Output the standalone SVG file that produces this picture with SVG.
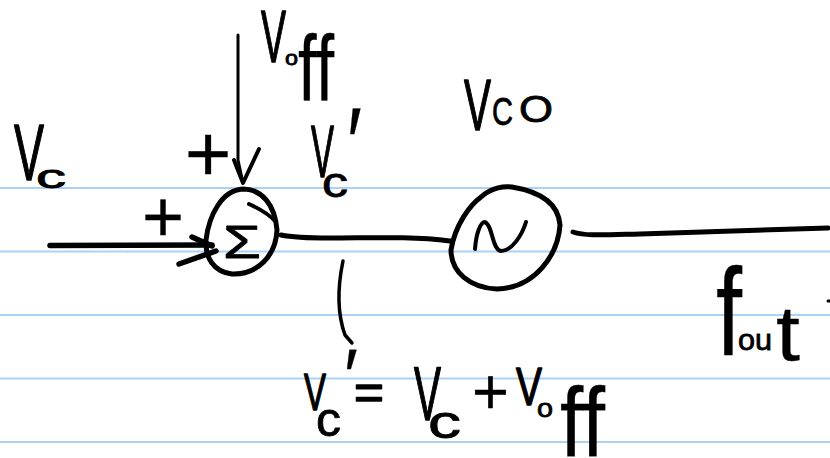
<svg xmlns="http://www.w3.org/2000/svg" width="830" height="458" viewBox="0 0 830 458">
<style>
.rule{stroke:#aad2f8;stroke-width:2;fill:none}
.ink{stroke:#000;fill:none;stroke-linecap:round;stroke-linejoin:round}
.t{font-family:"Liberation Sans",Arial,sans-serif;fill:#000;stroke:#000;stroke-width:1.500;stroke-linejoin:round}
.s{stroke-width:.8}
.n{stroke-width:.3}
</style>
<rect width="830" height="458" fill="#fff"/>
<g id="ruled-lines">
<path class="rule" d="M0 188H830M0 251.500H830M0 315H830M0 378.500H830M0 442H830"/>
</g>
<g id="connectors">
<path class="ink" stroke-width="5.500" d="M50 245.500L212 245"/>
<path class="ink" stroke-width="5.500" d="M192 237L212 246M179 264L216 251"/>
<path class="ink" stroke-width="3" d="M238 35L238 75L238 160L243 183"/>
<path class="ink" stroke-width="4" d="M234 160L243 183L259 149"/>
<path class="ink" stroke-width="5" d="M281 235C295 238 310 238 330 238C370 238 410 236 450 241"/>
<path class="ink" stroke-width="5" d="M573 232C585 236 600 235 640 234L828 228"/>
<path class="ink" stroke-width="3.500" d="M343 261C338 285 336 310 345 335L352 343"/>
<path class="ink" stroke-width="3" d="M828 301L830 301"/>
</g>
<g id="sum">
<path class="ink" stroke-width="5" d="M243 189C262 189 275 205 277 230C276 255 258 275 232 274C214 272 205 258 206 240C209 215 222 190 243 189Z"/>
<path class="ink" stroke-width="4" d="M249 204C260 209 270 215 276 222"/>
<text class="t s" x="223" y="258" font-size="46" textLength="38" lengthAdjust="spacingAndGlyphs">Σ</text>
<text class="t n" x="163" y="241" text-anchor="middle" font-size="72">+</text>
<text class="t n" x="208" y="181" text-anchor="middle" font-size="80">+</text>
</g>
<g id="vco">
<path class="ink" stroke-width="5" d="M481 197C492 187 505 186 512 187C530 190 558 198 560 225C558 255 535 288 497 289C470 288 451 272 451 250C455 225 470 205 481 197Z"/>
<path class="ink" stroke-width="4" d="M475 249C476 235 480 222 485 222C493 226 492 250 501 251C512 251 522 235 526 222"/>
</g>
<g id="labels">
<text class="t"><tspan x="14" y="180" font-size="80" textLength="30" lengthAdjust="spacingAndGlyphs">V</tspan><tspan class="s" x="36" y="188" font-size="34" textLength="30" lengthAdjust="spacingAndGlyphs">c</tspan></text>
<text class="t"><tspan x="261" y="62" font-size="74" textLength="25" lengthAdjust="spacingAndGlyphs">V</tspan><tspan class="s" x="285" y="65" font-size="20" textLength="13" lengthAdjust="spacingAndGlyphs">o</tspan><tspan class="n" x="298" y="100" font-size="92" textLength="36" lengthAdjust="spacingAndGlyphs">ff</tspan></text>
<text class="t"><tspan x="311" y="177" font-size="74" textLength="23" lengthAdjust="spacingAndGlyphs">V</tspan><tspan class="s" x="322" y="197" font-size="42" textLength="26" lengthAdjust="spacingAndGlyphs">c</tspan><tspan class="n" x="347" y="178" font-size="100" textLength="15" lengthAdjust="spacingAndGlyphs">′</tspan></text>
<text class="t"><tspan x="464" y="130" font-size="72" textLength="27" lengthAdjust="spacingAndGlyphs">V</tspan><tspan class="s" x="492" y="125" font-size="38" textLength="21" lengthAdjust="spacingAndGlyphs">C</tspan><tspan class="s" x="519" y="122" font-size="36" textLength="34" lengthAdjust="spacingAndGlyphs">O</tspan></text>
<text class="t"><tspan class="n" x="716" y="355" font-size="124" textLength="26" lengthAdjust="spacingAndGlyphs">f</tspan><tspan class="s" x="738" y="350" font-size="30" textLength="34" lengthAdjust="spacingAndGlyphs">ou</tspan><tspan class="n" x="776" y="360" font-size="78" textLength="24" lengthAdjust="spacingAndGlyphs">t</tspan></text>
<text class="t"><tspan x="304" y="410" font-size="52" textLength="22" lengthAdjust="spacingAndGlyphs">V</tspan><tspan class="s" x="316" y="436" font-size="48" textLength="25" lengthAdjust="spacingAndGlyphs">c</tspan><tspan class="n" x="344" y="402" font-size="76" textLength="14" lengthAdjust="spacingAndGlyphs">′</tspan> <tspan x="354" y="409" font-size="50" textLength="30" lengthAdjust="spacingAndGlyphs">=</tspan> <tspan x="414" y="420" font-size="76" textLength="27" lengthAdjust="spacingAndGlyphs">V</tspan><tspan class="s" x="428" y="438" font-size="46" textLength="33" lengthAdjust="spacingAndGlyphs">c</tspan> <tspan class="n" x="472" y="414" font-size="64" textLength="37" lengthAdjust="spacingAndGlyphs">+</tspan> <tspan x="516" y="405" font-size="54" textLength="26" lengthAdjust="spacingAndGlyphs">V</tspan><tspan class="s" x="537" y="417" font-size="26" textLength="16" lengthAdjust="spacingAndGlyphs">o</tspan><tspan class="n" x="560" y="456" font-size="98" textLength="45" lengthAdjust="spacingAndGlyphs">ff</tspan></text>
</g>
</svg>
